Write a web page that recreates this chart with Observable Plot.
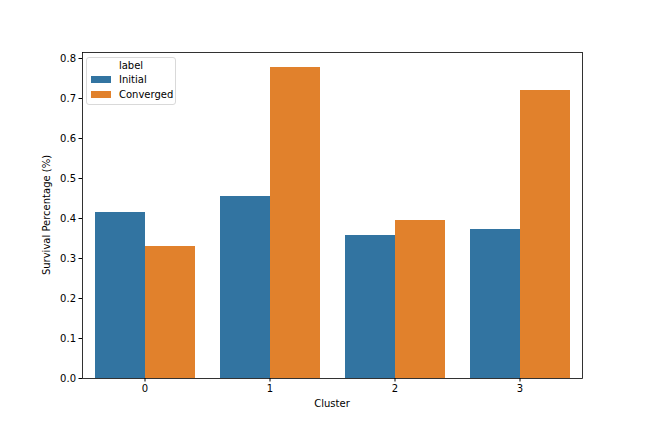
<!DOCTYPE html>
<html>
<head>
<meta charset="utf-8">
<script src="https://cdn.jsdelivr.net/npm/d3@7"></script>
<script src="https://cdn.jsdelivr.net/npm/@observablehq/plot@0.6"></script>
<style>
  body { margin: 0; background: #fff; }
  #wrap { position: relative; width: 648px; height: 432px; font-family: "DejaVu Sans", sans-serif; }
  #legend { position: absolute; left: 86px; top: 57px; width: 90px; height: 48px; border: 1px solid #d9d9d9; border-radius: 3px; background: rgba(255,255,255,0.8); font-size: 10px; color: #000; box-sizing: border-box; }
  #legend .title { text-align: center; margin-top: 2px; line-height: 12px; }
  #legend .item { display: flex; align-items: center; height: 15px; padding-left: 4px; }
  #legend .sw { width: 20px; height: 7px; margin-right: 8px; }
</style>
</head>
<body>
<div id="wrap"><div id="chart"></div><div id="legend"></div></div>
<script>
const clusters = ["0", "1", "2", "3"];
const labels = ["Initial", "Converged"];
const initialValues = [0.415, 0.455, 0.3575, 0.3725];
const convergedValues = [0.33, 0.7775, 0.395, 0.72];
const yTicks = [0, 0.1, 0.2, 0.3, 0.4, 0.5, 0.6, 0.7, 0.8];
const colors = ["#3274a1", "#e1812c"];

const data = [];
clusters.forEach((c, i) => {
  data.push({cluster: c, label: "Initial", value: initialValues[i]});
  data.push({cluster: c, label: "Converged", value: convergedValues[i]});
});

const chart = Plot.plot({
  width: 648,
  height: 432,
  marginLeft: 81,
  marginRight: 65,
  marginTop: 52,
  marginBottom: 54,
  style: {fontFamily: "DejaVu Sans, sans-serif", fontSize: "10px", color: "#000", background: "#fff"},
  fx: {domain: clusters, padding: 0, label: null},
  x: {domain: labels, paddingInner: 0, paddingOuter: 0.25, axis: null},
  y: {domain: [0, 0.815], label: null},
  color: {domain: labels, range: colors},
  marks: [
    Plot.barY(data, {fx: "cluster", x: "label", y: "value", fill: "label"}),
    Plot.axisY({ticks: yTicks, tickFormat: ".1f", tickSize: 3.5, tickPadding: 3, label: null, fontSize: 10}),
    Plot.axisFx({anchor: "bottom", tickSize: 3.5, tickPadding: 3, label: null, fontSize: 10}),
    Plot.frame({facet: "super", stroke: "#000", strokeWidth: 0.8})
  ]
});
document.getElementById("chart").appendChild(chart);

// axis titles
const svg = d3.select(chart);
svg.append("text").attr("x", 332).attr("y", 407).attr("text-anchor", "middle")
  .attr("font-size", 10).attr("fill", "#000").text("Cluster");
svg.append("text").attr("transform", "translate(50,215) rotate(-90)").attr("text-anchor", "middle")
  .attr("font-size", 10).attr("fill", "#000").text("Survival Percentage (%)");

const legend = document.getElementById("legend");
legend.innerHTML = `<div class="title">label</div>` +
  labels.map((l, i) => `<div class="item"><div class="sw" style="background:${colors[i]}"></div>${l}</div>`).join("");
</script>
</body>
</html>
